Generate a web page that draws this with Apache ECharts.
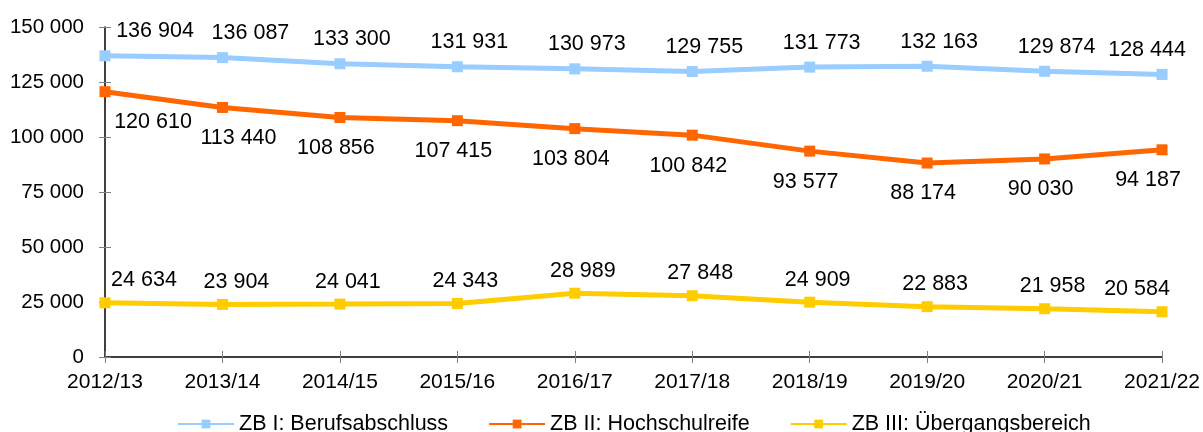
<!DOCTYPE html>
<html>
<head>
<meta charset="utf-8">
<script src="https://cdn.jsdelivr.net/npm/echarts@6/dist/echarts.min.js"></script>
<style>
  html, body { margin: 0; padding: 0; background: #fff; }
  #chart { width: 1203px; height: 432px; }
</style>
</head>
<body>
<div id="chart"></div>
<script>
  const years = ['2012/13', '2013/14', '2014/15', '2015/16', '2016/17', '2017/18', '2018/19', '2019/20', '2020/21', '2021/22']
  const zb1 = [136904, 136087, 133300, 131931, 130973, 129755, 131773, 132163, 129874, 128444]
  const zb2 = [120610, 113440, 108856, 107415, 103804, 100842, 93577, 88174, 90030, 94187]
  const zb3 = [24634, 23904, 24041, 24343, 28989, 27848, 24909, 22883, 21958, 20584]

  const fmt = v => String(v).replace(/\B(?=(\d{3})+(?!\d))/g, ' ')
  const font = 'Liberation Sans, Arial, sans-serif'

  // labels sit a bit to the right, first/last ones are pushed inwards
  const withNudge = (data, first, second, mid, last) => data.map((v, i) => {
    let dx = mid
    if (i === 0) dx = first
    if (i === 1) dx = second
    if (i === data.length - 1) dx = last
    return { value: v, label: { offset: [dx, 0] } }
  })

  const generateSeries = (name, data, color, pos, dist, nudge) => ({
    name,
    type: 'line',
    data: withNudge(data, ...nudge),
    symbol: 'rect',
    symbolSize: 11,
    lineStyle: { width: 5, color },
    itemStyle: { color },
    label: {
      show: true,
      position: pos,
      distance: dist,
      color: '#000',
      fontFamily: font,
      fontSize: 21.5,
      formatter: p => fmt(p.value)
    },
    emphasis: { disabled: true },
    animation: false
  })

  const chart = echarts.init(document.getElementById('chart'))
  chart.setOption({
    grid: { left: 105, right: 40, top: 27, bottom: 75 },
    legend: {
      top: 408,
      left: 172,
      itemWidth: 56,
      itemHeight: 11,
      itemGap: 40,
      textStyle: { fontFamily: font, fontSize: 21.5, color: '#000' },
      data: ['ZB I: Berufsabschluss', 'ZB II: Hochschulreife', 'ZB III: Übergangsbereich']
    },
    xAxis: [{
      type: 'category',
      data: years,
      boundaryGap: false,
      axisLine: { lineStyle: { color: '#000', width: 1.5 } },
      axisTick: { alignWithLabel: true, length: 6, lineStyle: { color: '#808080' } },
      axisLabel: { color: '#000', fontFamily: font, fontSize: 21, margin: 15, interval: 0 }
    }, {
      type: 'category',
      data: years,
      boundaryGap: false,
      position: 'bottom',
      axisLine: { show: false },
      axisTick: { inside: true, length: 6, lineStyle: { color: '#808080' } },
      axisLabel: { show: false }
    }],
    yAxis: [{
      type: 'value',
      min: 0,
      max: 150000,
      interval: 25000,
      axisLine: { show: true, lineStyle: { color: '#000', width: 1.5 } },
      axisTick: { show: true, length: 6, lineStyle: { color: '#808080' } },
      splitLine: { show: false },
      axisLabel: { color: '#000', fontFamily: font, fontSize: 20.5, margin: 21, formatter: fmt }
    }, {
      type: 'value',
      min: 0,
      max: 150000,
      interval: 25000,
      position: 'left',
      axisLine: { show: false },
      axisTick: { show: true, inside: true, length: 6, lineStyle: { color: '#808080' } },
      splitLine: { show: false },
      axisLabel: { show: false }
    }],
    series: [
      generateSeries('ZB I: Berufsabschluss', zb1, '#99CCFF', 'top', 8, [50, 28, 12, -15]),
      generateSeries('ZB II: Hochschulreife', zb2, '#FF6600', 'bottom', 14, [48, 16, -4, -14]),
      generateSeries('ZB III: Übergangsbereich', zb3, '#FFCC00', 'top', 6, [39, 14, 8, -25])
    ]
  })
</script>
</body>
</html>
